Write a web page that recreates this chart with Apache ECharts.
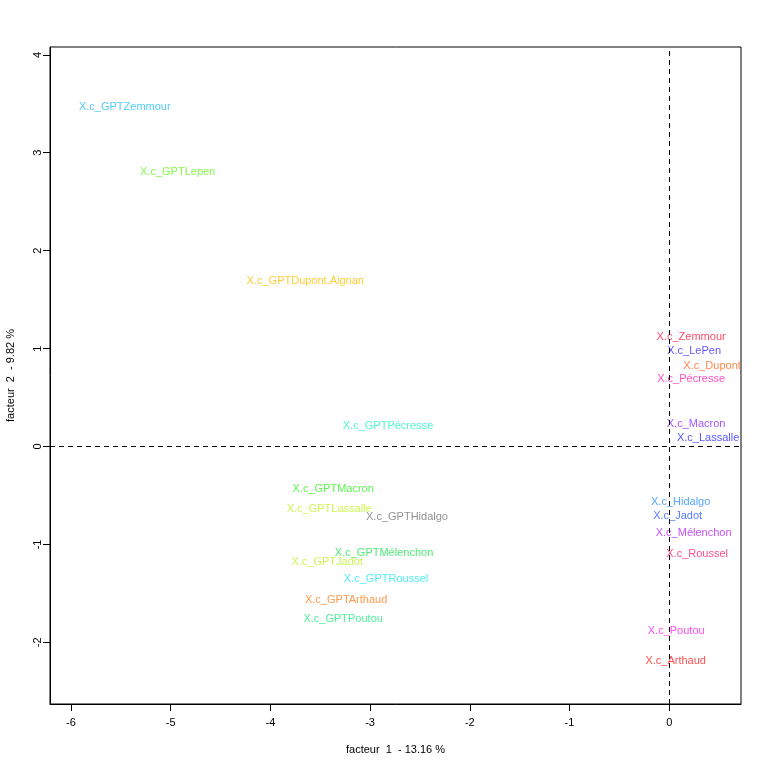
<!DOCTYPE html>
<html>
<head>
<meta charset="utf-8">
<script src="https://cdn.jsdelivr.net/npm/echarts@6/dist/echarts.min.js"></script>
<style>html,body{margin:0;padding:0;background:#fff;}#c{width:768px;height:768px;}</style>
</head>
<body>
<div id="c"></div>
<script>
const labels = ["X.c_GPTZemmour","X.c_GPTLepen","X.c_GPTDupont.Aignan","X.c_Zemmour","X.c_LePen","X.c_Dupont","X.c_Pécresse","X.c_Macron","X.c_Lassalle","X.c_GPTPécresse","X.c_GPTMacron","X.c_GPTLassalle","X.c_GPTHidalgo","X.c_GPTMélenchon","X.c_GPTJadot","X.c_GPTRoussel","X.c_GPTArthaud","X.c_GPTPoutou","X.c_Hidalgo","X.c_Jadot","X.c_Mélenchon","X.c_Roussel","X.c_Poutou","X.c_Arthaud"];
const factor1 = [-5.46,-4.93,-3.65,0.22,0.25,0.43,0.22,0.27,0.39,-2.82,-3.37,-3.41,-2.63,-2.86,-3.43,-2.84,-3.24,-3.27,0.115,0.085,0.245,0.28,0.07,0.065];
const factor2 = [3.47,2.80,1.69,1.12,0.98,0.82,0.69,0.23,0.09,0.21,-0.43,-0.64,-0.72,-1.09,-1.18,-1.35,-1.57,-1.76,-0.57,-0.71,-0.88,-1.10,-1.88,-2.19];
const palette = ["#22bff0","#66f522","#ffbf00","#ff2244","#3a2aff","#ff6a22","#ff22bb","#8f2aff","#2a2aff","#22f5c4","#33f522","#c0f522","#777777","#22e655","#c0ef30","#22eaf5","#ff8022","#22ef80","#2a90ff","#2a5aff","#bb22ff","#ff2270","#ff22ef","#ff2222"];
const xTicks = [-6,-5,-4,-3,-2,-1,0];
const yTicks = [-2,-1,0,1,2,3,4];

const chart = echarts.init(document.getElementById('c'), null, {renderer:'canvas'});
const font = 'Liberation Sans, Arial, sans-serif';
const data = labels.map((n,i)=>({
  name:n, value:[factor1[i],factor2[i]],
  label:{color:palette[i]}
}));
chart.setOption({
  animation:false,
  backgroundColor:'#fff',
  grid:{left:50,right:27,top:47,bottom:64,show:true,borderColor:'#000',borderWidth:1,containLabel:false,outerBoundsMode:'none'},
  xAxis:{
    type:'value', min:-6.21, max:0.72,
    name:'facteur  1  - 13.16 %', nameLocation:'middle', nameGap:40,
    nameTextStyle:{color:'#000',fontFamily:font,fontSize:11},
    splitLine:{show:false},
    axisLine:{show:true,onZero:false,lineStyle:{color:'#000'}},
    axisTick:{show:true,length:7,lineStyle:{color:'#000'},customValues:xTicks},
    axisLabel:{color:'#000',fontFamily:font,fontSize:11,margin:13,customValues:xTicks}
  },
  yAxis:{
    type:'value', min:-2.63, max:4.08,
    name:'facteur  2  - 9.82 %', nameLocation:'middle', nameGap:34,
    nameTextStyle:{color:'#000',fontFamily:font,fontSize:11},
    splitLine:{show:false},
    axisLine:{show:true,onZero:false,lineStyle:{color:'#000'}},
    axisTick:{show:true,length:7,lineStyle:{color:'#000'},customValues:yTicks},
    axisLabel:{color:'#000',fontFamily:font,fontSize:11,margin:7,rotate:90,customValues:yTicks}
  },
  series:[{
    type:'scatter',
    symbolSize:0,
    data:data,
    label:{show:true,position:'inside',formatter:p=>p.name,fontFamily:font,fontSize:11,align:'center',verticalAlign:'middle'},
    emphasis:{disabled:true},
    markLine:{
      silent:true, symbol:'none', animation:false,
      label:{show:false},
      lineStyle:{color:'#000',type:[5,4],width:1},
      data:[{xAxis:0},{yAxis:0}]
    }
  }]
});
</script>
</body>
</html>
